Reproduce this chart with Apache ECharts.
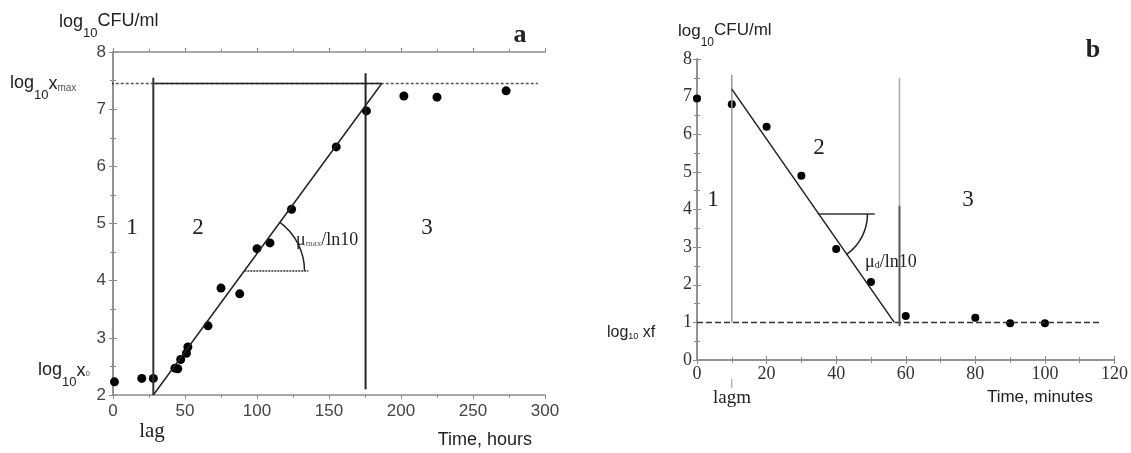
<!DOCTYPE html>
<html>
<head>
<meta charset="utf-8">
<script src="https://cdn.jsdelivr.net/npm/echarts@6/dist/echarts.min.js"></script>
<style>
html, body { margin: 0; background: #fff; }
#chart { width: 1131px; height: 453px; }
</style>
</head>
<body>
<div id="chart"></div>
<script>
// panel a - growth, hours
var growthTime = [1, 20, 28, 43, 45, 47, 51, 52, 66, 75, 88, 100, 109, 124, 155, 176, 202, 225, 273];
var growthLog = [2.23, 2.29, 2.29, 2.47, 2.46, 2.62, 2.73, 2.84, 3.21, 3.87, 3.77, 4.56, 4.66, 5.25, 6.34, 6.97, 7.23, 7.21, 7.32];
var growthFit = [[28, 2], [186.6, 7.45]];
var growthMax = 7.45;
var lagA = [[28, 2], [28, 7.55]];
var endA = [[175.4, 2.1], [175.4, 7.63]];
var angleA = [[91.2, 4.17], [135.7, 4.17]];
var arcA = [91.2, 4.17, 133, 186.6, 7.45]; // vertex t, y, arc end t, point on fit t, y
var xRangeA = [0, 300, 50];
var yRangeA = [2, 8, 1];

// panel b - inactivation, minutes
var deathTime = [0, 10, 20, 30, 40, 50, 60, 80, 90, 100];
var deathLog = [6.95, 6.8, 6.2, 4.9, 2.95, 2.07, 1.17, 1.12, 0.98, 0.98];
var deathFit = [[10, 7.2], [56.7, 1.0]];
var floorB = [[0, 1], [116, 1]];
var lagB = [[10, 1], [10, 7.58]];
var lagTickB = [[10, -0.5], [10, -0.75]];
var endB = [[58.2, 4.1], [58.2, 7.5]];
var endB2 = [[58.2, 0.9], [58.2, 4.1]];
var angleB = [[34.7, 3.88], [51.1, 3.88]];
var arcB = [34.7, 3.88, 49, 56.7, 1.0];
var xRangeB = [0, 120, 20];
var yRangeB = [0, 8, 1];

var SANS = '"Liberation Sans", Arial, sans-serif';
var SERIF = '"Liberation Serif", "Times New Roman", serif';
var AXIS = '#8c8c8c';

var chart = echarts.init(document.getElementById('chart'));

function axis(kind, grid, pos, range, labelStyle, margin) {
    var a = {
        type: 'value', gridIndex: grid, position: pos,
        min: range[0], max: range[1], interval: range[2],
        axisLine: { show: true, lineStyle: { color: AXIS, width: 1.5 } },
        axisTick: { show: true, length: 4, lineStyle: { color: AXIS } },
        minorTick: { show: true, splitNumber: 2, length: 3, lineStyle: { color: AXIS } },
        splitLine: { show: false },
        axisLabel: { show: false }
    };
    if (labelStyle) {
        a.axisLabel = { show: true, margin: margin, color: labelStyle[0], fontFamily: labelStyle[1], fontSize: labelStyle[2] };
    }
    return a;
}

function seg(xi, data, color, width, type) {
    return {
        type: 'line', xAxisIndex: xi, yAxisIndex: xi, data: data,
        symbol: 'none', silent: true, clip: false, animation: false,
        lineStyle: { color: color, width: width, type: type || 'solid' }
    };
}

function dots(xi, xs, ys, size) {
    return {
        type: 'scatter', xAxisIndex: xi, yAxisIndex: xi, symbolSize: size,
        itemStyle: { color: '#000', opacity: 1 }, animation: false,
        data: xs.map(function (t, i) { return [t, ys[i]]; })
    };
}

function arc(xi, a) {
    return {
        type: 'custom', xAxisIndex: xi, yAxisIndex: xi, silent: true, animation: false,
        data: [a],
        renderItem: function (params, api) {
            var v = api.coord([api.value(0), api.value(1)]);
            var e = api.coord([api.value(2), api.value(1)]);
            var p = api.coord([api.value(3), api.value(4)]);
            var ang = Math.atan2(p[1] - v[1], p[0] - v[0]);
            return {
                type: 'arc',
                shape: { cx: v[0], cy: v[1], r: e[0] - v[0], startAngle: Math.min(ang, 0), endAngle: Math.max(ang, 0), clockwise: true },
                style: { stroke: '#222', fill: null, lineWidth: 1.5 }
            };
        }
    };
}

// texts with sub/superscripts: pieces laid out one after another
var ctx = document.createElement('canvas').getContext('2d');
function runs(x, parts) {
    var out = [];
    parts.forEach(function (p) {
        var font = (p[4] || '') + ' ' + p[2] + 'px ' + p[3];
        ctx.font = font;
        out.push({
            type: 'text', x: x, y: p[1], silent: true,
            style: { text: p[0], font: font, fill: p[5] || '#222', textVerticalAlign: 'middle' }
        });
        x += ctx.measureText(p[0]).width;
    });
    return out;
}
function label(x, y, text, size, family, weight, align) {
    return {
        type: 'text', x: x, y: y, silent: true,
        style: { text: text, font: (weight || '') + ' ' + size + 'px ' + family, fill: '#222', textAlign: align || 'center', textVerticalAlign: 'middle' }
    };
}

var graphics = [].concat(
    runs(59, [['log', 22, 18, SANS], ['10', 33, 13, SANS], ['CFU/ml', 21, 18, SANS]]),
    runs(10, [['log', 83, 18, SANS], ['10', 95, 13, SANS], ['x', 84, 18, SANS], ['max', 88, 10, SANS, '', '#555']]),
    runs(38, [['log', 370, 18, SANS], ['10', 382, 13, SANS], ['x', 371, 18, SANS], ['0', 374, 8, SANS, '', '#555']]),
    runs(296, [['\u03bc', 240, 18, SERIF], ['max', 244, 9, SERIF, '', '#555'], ['/ln10', 240, 18, SERIF]]),
    runs(678, [['log', 31, 17, SANS], ['10', 43, 12, SANS], ['CFU/ml', 30, 17, SANS]]),
    runs(607, [['log', 333, 16, SANS], ['10', 337, 9, SANS], [' xf', 333, 16, SANS]]),
    runs(865, [['\u03bc', 262, 18, SERIF], ['d', 265, 10, SERIF], ['/ln10', 262, 18, SERIF]]),
    [
        label(520, 35, 'a', 26, SERIF, 'bold'),
        label(1093, 50, 'b', 26, SERIF, 'bold'),
        label(132, 228, '1', 23, SERIF),
        label(198, 228, '2', 23, SERIF),
        label(427, 228, '3', 23, SERIF),
        label(713, 200, '1', 23, SERIF),
        label(819, 148, '2', 23, SERIF),
        label(968, 200, '3', 23, SERIF),
        label(152, 431, 'lag', 21, SERIF),
        label(732, 398, 'lagm', 19, SERIF),
        label(532, 440, 'Time, hours', 18, SANS, '', 'right'),
        label(1093, 397, 'Time, minutes', 17, SANS, '', 'right')
    ]
);

var labA = ['#444', SANS, 17];
var labB = ['#333', SERIF, 18];

chart.setOption({
    backgroundColor: '#fff',
    animation: false,
    grid: [
        { left: 113, top: 52, width: 432, height: 343 },
        { left: 697, top: 59, width: 418, height: 301 }
    ],
    xAxis: [
        axis('x', 0, 'bottom', xRangeA, labA, 8),
        axis('x', 1, 'bottom', xRangeB, labB, 5),
        axis('x', 0, 'top', xRangeA),
        axis('x', 1, 'top', xRangeB)
    ],
    yAxis: [
        axis('y', 0, 'left', yRangeA, labA, 7),
        axis('y', 1, 'left', yRangeB, labB, 5),
        axis('y', 0, 'right', yRangeA),
        axis('y', 1, 'right', yRangeB)
    ],
    graphic: graphics,
    series: [
        seg(0, [[-12, growthMax], [295, growthMax]], '#555', 1.5, [3, 2]),
        seg(0, [[-12, growthMax], [0, growthMax]], '#222', 1.5),
        seg(0, [[28, growthMax], [186.6, growthMax]], '#222', 1.5),
        seg(0, lagA, '#333', 2),
        seg(0, endA, '#222', 2),
        seg(0, growthFit, '#222', 1.5),
        seg(0, angleA, '#333', 1.5, [2, 1]),
        arc(0, arcA),
        dots(0, growthTime, growthLog, 9),

        seg(1, floorB, '#333', 1.5, [6, 3]),
        seg(1, lagB, '#999', 1.5),
        seg(1, lagTickB, '#999', 1),
        seg(1, endB, '#aaa', 1.5),
        seg(1, endB2, '#555', 2),
        seg(1, deathFit, '#222', 1.5),
        seg(1, angleB, '#333', 1.5),
        arc(1, arcB),
        dots(1, deathTime, deathLog, 8)
    ]
});
</script>
</body>
</html>
